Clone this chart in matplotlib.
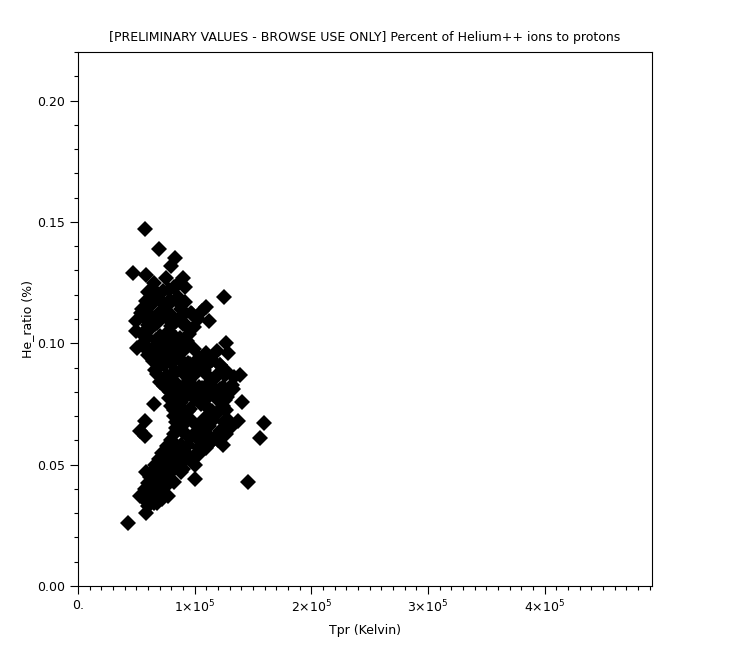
import matplotlib
matplotlib.use("Agg")
import matplotlib.pyplot as plt
from matplotlib.ticker import MultipleLocator, FuncFormatter

# Proton temperature (K) vs He++/H+ ratio
tpr = [
    # outlying points
    57000, 69000, 47000, 58000, 83000, 80000, 90000, 92000, 125000, 110000,
    112000, 49500, 49500, 50500, 127000, 129000, 139000, 141000, 137000, 159000,
    156000, 146000, 53000, 57000, 57000, 65000, 100000, 43000, 58000, 53000,
    58000, 77000,
    # dense core
    65000, 75000, 85000,
    60000, 70000, 78000, 86000,
    55000, 63000, 72000, 80000, 88000, 98000,
    58000, 66000, 75000, 84000, 93000, 103000,
    55000, 62000, 70000, 78000, 87000, 95000,
    56000, 64000, 72000, 80000, 90000,
    60000, 68000, 76000, 85000, 94000, 104000, 115000, 122000,
    66000, 74000, 82000, 90000, 99000, 108000, 118000, 128000,
    70000, 78000, 86000, 95000, 104000, 113000, 122000, 132000,
    79000, 86000, 94000, 102000, 110000, 120000, 128000,
    80000, 88000, 96000, 105000, 115000, 124000,
    82000, 90000, 108000, 118000, 128000,
    84000, 92000, 102000, 112000, 122000, 130000,
    80000, 88000, 96000, 106000, 116000, 124000,
    72000, 80000, 90000, 100000, 110000,
    66000, 74000, 82000, 92000, 100000,
    62000, 70000, 78000, 88000,
    57000, 64000, 71000, 77000,
    58000, 65000, 72000,
    # in-between rows
    64000, 73000, 82000,
    58000, 67000, 76000, 84000, 92000,
    54000, 62000, 70000, 79000, 88000, 97000, 106000,
    60000, 68000, 80000, 90000, 99000,
    59000, 67000, 75000, 84000, 93000,
    58000, 65000, 72000, 81000, 89000, 99000, 110000, 119000,
    64000, 72000, 80000, 88000, 96000, 104000, 112000, 122000,
    68000, 76000, 84000, 92000, 100000, 110000, 118000, 126000, 134000,
    74000, 82000, 90000, 98000, 106000, 115000, 124000, 133000,
    78000, 84000, 92000, 100000, 110000, 118000, 126000,
    82000, 88000, 94000, 112000, 120000, 127000,
    84000, 90000, 98000, 106000, 116000, 125000,
    82000, 90000, 100000, 110000, 118000, 127000,
    76000, 84000, 94000, 104000, 112000, 120000,
    69000, 78000, 86000, 96000, 104000,
    64000, 72000, 80000, 90000,
    60000, 67000, 74000, 82000,
    55000, 62000, 68000, 74000,
    60000, 68000,
]
he_ratio = [
    # outlying points
    0.147, 0.139, 0.129, 0.128, 0.135, 0.132, 0.127, 0.123, 0.119, 0.115,
    0.109, 0.109, 0.105, 0.098, 0.100, 0.096, 0.087, 0.076, 0.068, 0.067,
    0.061, 0.043, 0.064, 0.068, 0.062, 0.075, 0.044, 0.026, 0.030, 0.037,
    0.047, 0.037,
    # dense core
    0.125, 0.127, 0.124,
    0.121, 0.118, 0.122, 0.119,
    0.114, 0.116, 0.113, 0.117, 0.114, 0.112,
    0.110, 0.108, 0.111, 0.109, 0.107, 0.110,
    0.104, 0.106, 0.103, 0.105, 0.102, 0.104,
    0.100, 0.098, 0.101, 0.099, 0.097,
    0.095, 0.093, 0.096, 0.094, 0.092, 0.094, 0.093, 0.091,
    0.089, 0.091, 0.088, 0.090, 0.087, 0.089, 0.086, 0.088,
    0.084, 0.086, 0.083, 0.085, 0.082, 0.084, 0.081, 0.083,
    0.080, 0.078, 0.081, 0.079, 0.077, 0.080, 0.078,
    0.074, 0.076, 0.073, 0.075, 0.072, 0.074,
    0.070, 0.068, 0.069, 0.071, 0.069,
    0.065, 0.063, 0.064, 0.066, 0.064, 0.065,
    0.060, 0.058, 0.061, 0.059, 0.060, 0.058,
    0.055, 0.053, 0.056, 0.054, 0.057,
    0.050, 0.051, 0.049, 0.052, 0.050,
    0.045, 0.046, 0.044, 0.047,
    0.040, 0.041, 0.039, 0.042,
    0.035, 0.034, 0.036,
    # in-between rows
    0.1225, 0.1215, 0.1230,
    0.1175, 0.1185, 0.1165, 0.1180, 0.1170,
    0.1125, 0.1115, 0.1130, 0.1120, 0.1110, 0.1125, 0.1135,
    0.1075, 0.1085, 0.1070, 0.1080, 0.1065,
    0.1025, 0.1015, 0.1030, 0.1020, 0.1010,
    0.0975, 0.0965, 0.0980, 0.0970, 0.0985, 0.0975, 0.0960, 0.0970,
    0.0925, 0.0935, 0.0920, 0.0930, 0.0915, 0.0925, 0.0920, 0.0910,
    0.0875, 0.0865, 0.0880, 0.0870, 0.0885, 0.0875, 0.0865, 0.0870, 0.0860,
    0.0825, 0.0835, 0.0820, 0.0830, 0.0815, 0.0825, 0.0820, 0.0810,
    0.0775, 0.0765, 0.0780, 0.0770, 0.0785, 0.0775, 0.0765,
    0.0725, 0.0735, 0.0720, 0.0730, 0.0715, 0.0725,
    0.0675, 0.0665, 0.0680, 0.0670, 0.0685, 0.0675,
    0.0625, 0.0635, 0.0620, 0.0630, 0.0615, 0.0625,
    0.0575, 0.0565, 0.0580, 0.0570, 0.0585, 0.0600,
    0.0525, 0.0535, 0.0520, 0.0530, 0.0545,
    0.0475, 0.0485, 0.0470, 0.0480,
    0.0425, 0.0435, 0.0420, 0.0430,
    0.0375, 0.0385, 0.0370, 0.0380,
    0.0330, 0.0340,
]

TITLE = "[PRELIMINARY VALUES - BROWSE USE ONLY] Percent of Helium++ ions to protons"
FONT_SIZE = 9


def x_label(val, pos):
    if abs(val) < 1:
        return "0."
    return r"%d$\times$10$^{5}$" % round(val / 1e5)


fig = plt.figure(figsize=(7.30, 6.51), dpi=100)
ax = fig.add_axes([78 / 730, 65 / 651, 574 / 730, 534 / 651])

ax.plot(tpr, he_ratio, linestyle="none", marker="D", markersize=8.2,
        color="black", markeredgewidth=0)

ax.set_xlim(0, 4.92e5)
ax.set_ylim(0, 0.22)

ax.xaxis.set_major_locator(MultipleLocator(1e5))
ax.xaxis.set_minor_locator(MultipleLocator(1e4))
ax.xaxis.set_major_formatter(FuncFormatter(x_label))
ax.yaxis.set_major_locator(MultipleLocator(0.05))
ax.yaxis.set_minor_locator(MultipleLocator(0.01))
ax.yaxis.set_major_formatter(FuncFormatter(lambda v, p: "%.2f" % v))

ax.tick_params(which="both", direction="out", top=False, right=False,
               labelsize=FONT_SIZE, width=0.8)
ax.tick_params(which="major", length=6)
ax.tick_params(which="minor", length=3)
for s in ax.spines.values():
    s.set_linewidth(0.8)

ax.set_title(TITLE, fontsize=FONT_SIZE, pad=8)
ax.set_xlabel("Tpr (Kelvin)", fontsize=FONT_SIZE, labelpad=6)
ax.set_ylabel("He_ratio (%)", fontsize=FONT_SIZE, labelpad=2)

fig.savefig("out.png", dpi=100)
